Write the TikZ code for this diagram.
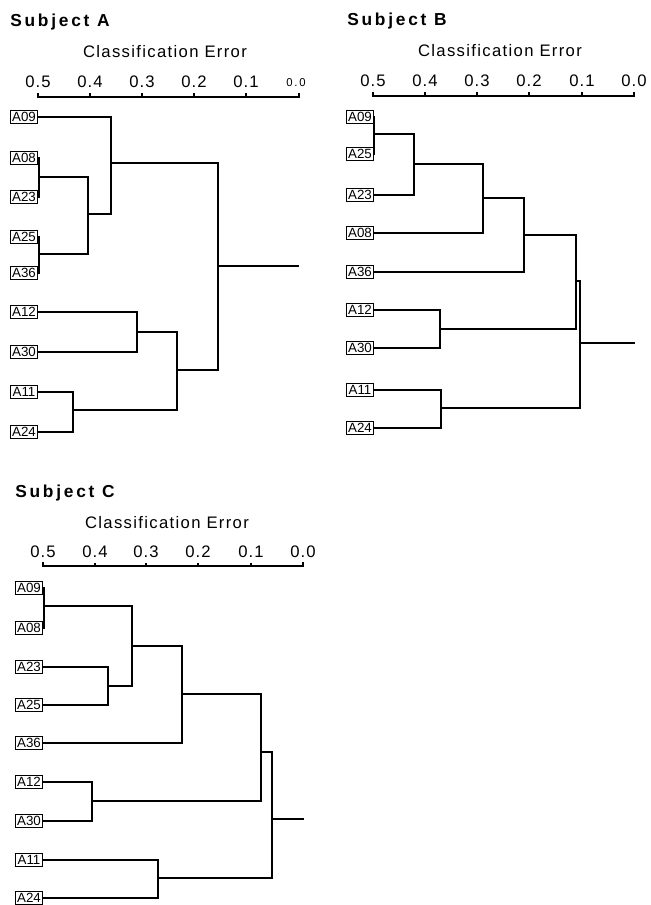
\documentclass[tikz,border=0pt]{standalone}
\usepackage{fontspec}
\setmainfont{Liberation Sans}
\begin{document}
\begin{tikzpicture}[x=0.75pt,y=0.75pt,yscale=-1,xscale=1,
  leaf/.style={draw,line width=0.7pt,inner xsep=1pt,inner ysep=1.2pt,minimum width=20pt,font=\fontsize{10}{11}\selectfont},
  tree/.style={line width=1.7pt},
  axisline/.style={line width=1.5pt},
  title/.style={anchor=base west,inner sep=0pt,font=\fontsize{13}{15}\selectfont\bfseries\addfontfeatures{LetterSpace=16}},
  axtitle/.style={anchor=base,inner sep=0pt,font=\fontsize{12.5}{14}\selectfont\addfontfeatures{LetterSpace=8}},
  ticklab/.style={anchor=base,inner sep=0pt,font=\fontsize{12.5}{14}\selectfont\addfontfeatures{LetterSpace=6}}]
\useasboundingbox (0,0) rectangle (650,905);
% Subject A
\node[title] (ta) at (10,27) {Subject A};
\node[axtitle] (ea) at (165,58) {Classification Error};
\draw[axisline] (38,93) -- (38,97) -- (299,97) -- (299,93);
\foreach \x/\t in {38/0.5,90/0.4,142/0.3,194/0.2,246/0.1} {
  \draw[axisline] (\x,93.5) -- (\x,97);
  \node[ticklab] at (\x,88) {\t};
}
\node[anchor=base,inner sep=0pt,font=\fontsize{8.5}{9}\selectfont\addfontfeatures{LetterSpace=15}] at (296,87) {0.0};
\foreach \n/\y in {A09/117,A08/158,A23/197,A25/237,A36/273,A12/312,A30/352,A11/392,A24/432}
  \node[leaf] (a\n) at (24,\y) {\n};
\coordinate (a1) at (39,177);
\coordinate (a2) at (39,254);
\coordinate (a3) at (88,214);
\coordinate (a4) at (111,163);
\coordinate (a5) at (137,332);
\coordinate (a6) at (73,410);
\coordinate (a7) at (177,370);
\coordinate (a8) at (218,266);
\coordinate (aR) at (299,266);
\draw[tree] (aA08.east) -| (a1) |- (aA23.east);
\draw[tree] (aA25.east) -| (a2) |- (aA36.east);
\draw[tree] (a1) -| (a3) |- (a2);
\draw[tree] (aA09.east) -| (a4) |- (a3);
\draw[tree] (aA12.east) -| (a5) |- (aA30.east);
\draw[tree] (aA11.east) -| (a6) |- (aA24.east);
\draw[tree] (a5) -| (a7) |- (a6);
\draw[tree] (a4) -| (a8) |- (a7);
\draw[tree] (a8) -- (aR);
% Subject B
\node[title] (tb) at (347,26) {Subject B};
\node[axtitle] (eb) at (500,57) {Classification Error};
\draw[axisline] (373,92) -- (373,96) -- (634,96) -- (634,92);
\foreach \x/\t in {373/0.5,425/0.4,477/0.3,529/0.2,582/0.1,634/0.0} {
  \draw[axisline] (\x,92.5) -- (\x,96);
  \node[ticklab] at (\x,87) {\t};
}
\foreach \n/\y in {A09/117,A25/154,A23/195,A08/233,A36/272,A12/310,A30/348,A11/390,A24/428}
  \node[leaf] (b\n) at (360,\y) {\n};
\coordinate (b1) at (374,134);
\coordinate (b2) at (414,164);
\coordinate (b3) at (483,198);
\coordinate (b4) at (524,235);
\coordinate (b5) at (440,329);
\coordinate (b6) at (576,281);
\coordinate (b7) at (441,408);
\coordinate (b8) at (580,343);
\coordinate (bR) at (635,343);
\draw[tree] (bA09.east) -| (b1) |- (bA25.east);
\draw[tree] (b1) -| (b2) |- (bA23.east);
\draw[tree] (b2) -| (b3) |- (bA08.east);
\draw[tree] (b3) -| (b4) |- (bA36.east);
\draw[tree] (bA12.east) -| (b5) |- (bA30.east);
\draw[tree] (b4) -| (b6) |- (b5);
\draw[tree] (bA11.east) -| (b7) |- (bA24.east);
\draw[tree] (b6) -| (b8) |- (b7);
\draw[tree] (b8) -- (bR);
% Subject C
\node[title] (tc) at (15,497) {Subject C};
\node[axtitle] (ec) at (167,528) {Classification Error};
\draw[axisline] (43,562) -- (43,566) -- (303,566) -- (303,562);
\foreach \x/\t in {43/0.5,95/0.4,146/0.3,198/0.2,251/0.1,303/0.0} {
  \draw[axisline] (\x,562.5) -- (\x,566);
  \node[ticklab] at (\x,557) {\t};
}
\foreach \n/\y in {A09/588,A08/628,A23/667,A25/705,A36/743,A12/782,A30/821,A11/860,A24/898}
  \node[leaf] (c\n) at (29,\y) {\n};
\coordinate (c1) at (44,606);
\coordinate (c2) at (108,686);
\coordinate (c3) at (132,646);
\coordinate (c4) at (182,694);
\coordinate (c5) at (92,801);
\coordinate (c6) at (261,752);
\coordinate (c7) at (158,878);
\coordinate (c8) at (272,819);
\coordinate (cR) at (304,819);
\draw[tree] (cA09.east) -| (c1) |- (cA08.east);
\draw[tree] (cA23.east) -| (c2) |- (cA25.east);
\draw[tree] (c1) -| (c3) |- (c2);
\draw[tree] (c3) -| (c4) |- (cA36.east);
\draw[tree] (cA12.east) -| (c5) |- (cA30.east);
\draw[tree] (c4) -| (c6) |- (c5);
\draw[tree] (cA11.east) -| (c7) |- (cA24.east);
\draw[tree] (c6) -| (c8) |- (c7);
\draw[tree] (c8) -- (cR);
\end{tikzpicture}
\end{document}
